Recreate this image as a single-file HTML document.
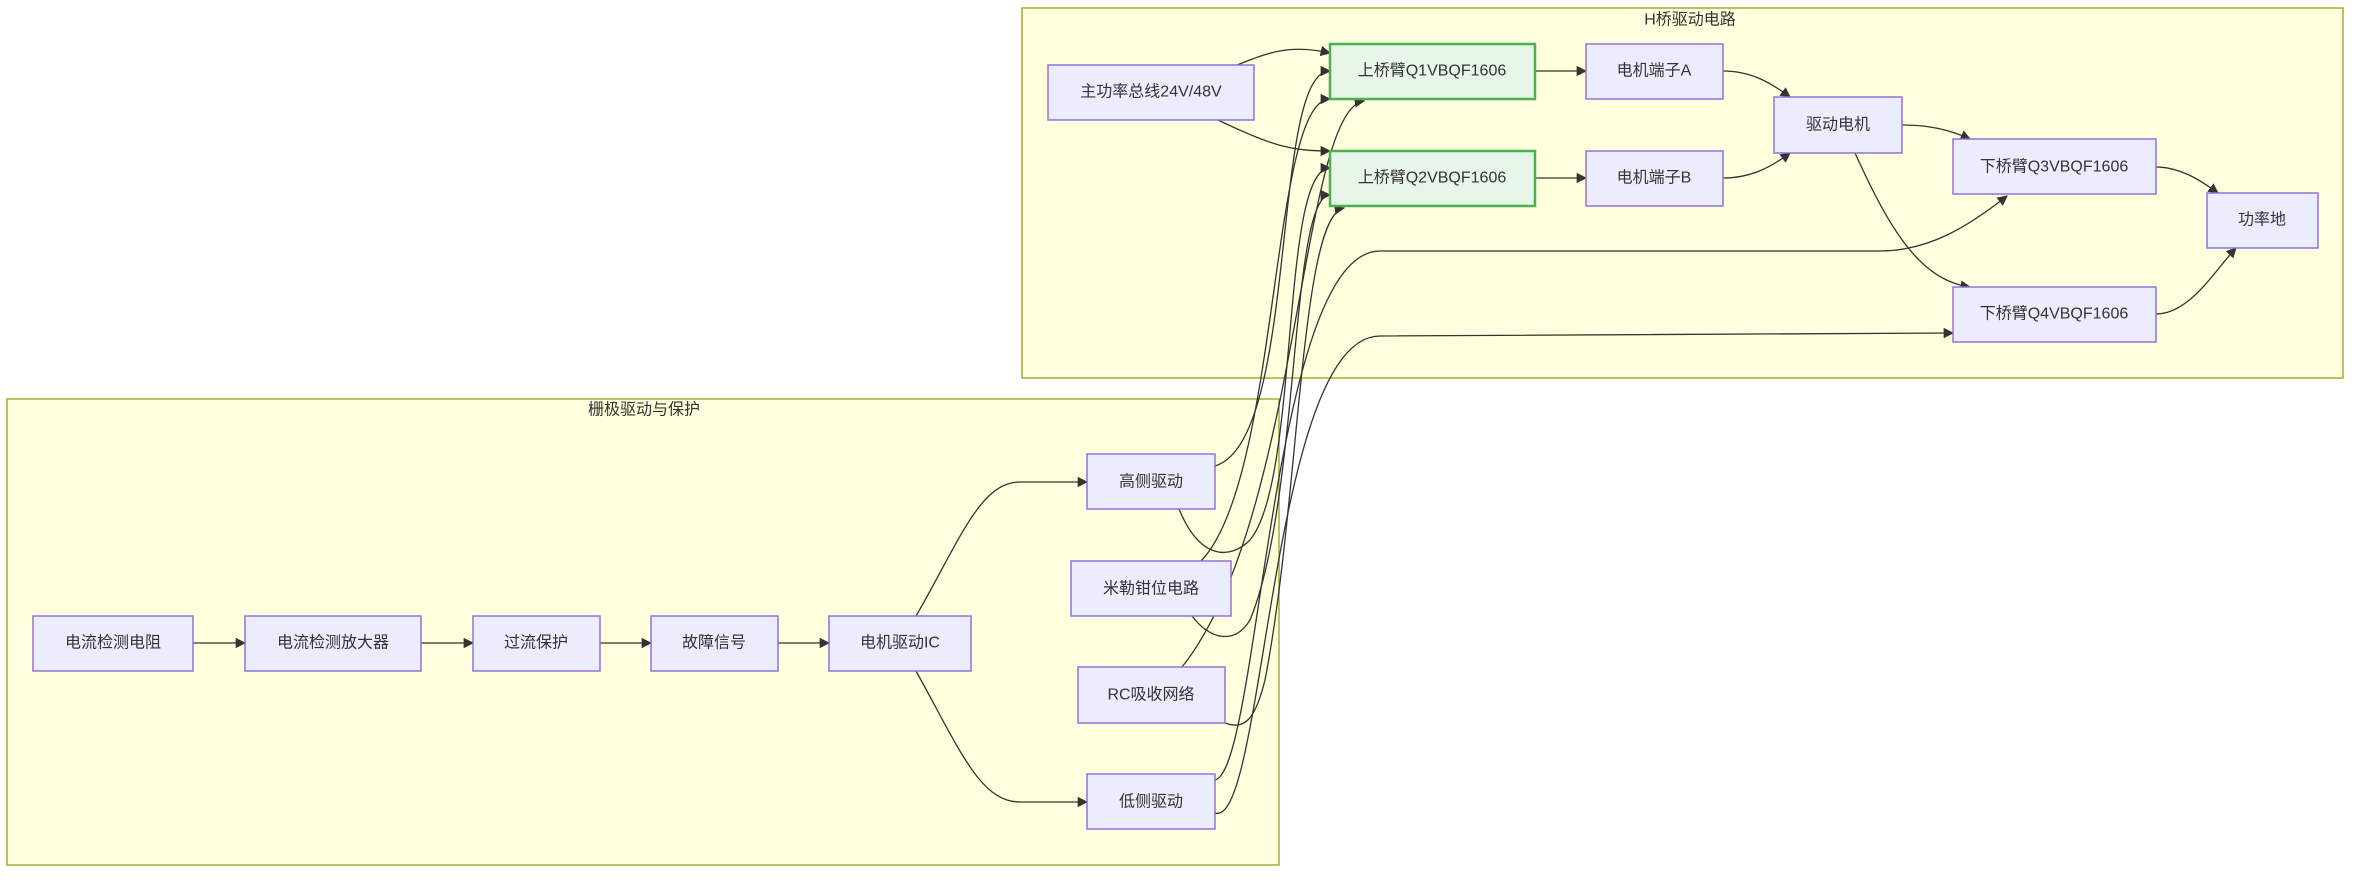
<!DOCTYPE html>
<html><head><meta charset="utf-8"><style>
body{margin:0;background:#fff;}
svg{display:block;font-family:"Liberation Sans","Noto Sans CJK SC",sans-serif;}
.n{fill:#ECECFF;stroke:#9370DB;stroke-width:1.5;}
.g{fill:#e8f5e9;stroke:#4caf50;stroke-width:2.5;}
.c{fill:#ffffde;stroke:#aaaa33;stroke-width:1.5;}
.e{fill:none;stroke:#333;stroke-width:1.3;}
text{font-size:16px;fill:#333;text-anchor:middle;dominant-baseline:central;}
</style></head><body>
<svg width="2368" height="880" viewBox="0 0 2368 880">
<defs><marker id="a" viewBox="0 0 10 10" refX="9" refY="5" markerWidth="8" markerHeight="8" orient="auto"><path d="M0,0L10,5L0,10z" fill="#333"/></marker></defs>
<rect class="c" x="1022" y="8" width="1321" height="370"/>
<text x="1690" y="20">H桥驱动电路</text>
<rect class="c" x="7" y="399" width="1272" height="466"/>
<text x="644" y="410">栅极驱动与保护</text>

<g marker-end="url(#a)">
<path class="e" d="M193,643L245,643"/>
<path class="e" d="M421,643L473,643"/>
<path class="e" d="M600,643L651,643"/>
<path class="e" d="M778,643L829,643"/>
<path class="e" d="M916,616C960,540 980,482 1020,482L1087,482"/>
<path class="e" d="M916,671C960,750 980,802 1020,802L1087,802"/>
<path class="e" d="M1237,65C1270,52 1290,44 1330,53"/>
<path class="e" d="M1218,120C1270,145 1290,151 1330,151"/>
<path class="e" d="M1215,466C1300,440 1270,71 1330,71"/>
<path class="e" d="M1201,561C1280,480 1270,99 1330,99"/>
<path class="e" d="M1182,667C1300,520 1300,110 1364,101"/>
<path class="e" d="M1179,509C1200,560 1230,560 1250,540C1300,480 1280,168 1330,168"/>
<path class="e" d="M1192,616C1210,640 1235,645 1250,620C1300,500 1290,195 1330,195"/>
<path class="e" d="M1225,723C1245,730 1255,720 1265,680C1300,500 1300,215 1344,208"/>
<path class="e" d="M1215,780C1260,770 1270,251 1380,251L1880,251C1930,251 1970,225 2007,196"/>
<path class="e" d="M1215,813C1265,830 1270,336 1380,336L1953,333"/>
<path class="e" d="M1535,71L1586,71"/>
<path class="e" d="M1535,178L1586,178"/>
<path class="e" d="M1723,71C1750,71 1770,82 1790,97"/>
<path class="e" d="M1723,178C1750,178 1770,168 1790,153"/>
<path class="e" d="M1902,125C1930,125 1950,130 1970,139"/>
<path class="e" d="M1855,153C1890,230 1920,280 1970,287"/>
<path class="e" d="M2156,167C2180,167 2200,180 2218,193"/>
<path class="e" d="M2156,314C2190,314 2215,270 2236,248"/>
</g>

<rect class="n" x="1048" y="65" width="206" height="55"/><text x="1151" y="92">主功率总线24V/48V</text>
<rect class="g" x="1330" y="44" width="205" height="55"/><text x="1432" y="71">上桥臂Q1VBQF1606</text>
<rect class="g" x="1330" y="151" width="205" height="55"/><text x="1432" y="178">上桥臂Q2VBQF1606</text>
<rect class="n" x="1586" y="44" width="137" height="55"/><text x="1654" y="71">电机端子A</text>
<rect class="n" x="1586" y="151" width="137" height="55"/><text x="1654" y="178">电机端子B</text>
<rect class="n" x="1774" y="97" width="128" height="56"/><text x="1838" y="125">驱动电机</text>
<rect class="n" x="1953" y="139" width="203" height="55"/><text x="2054" y="167">下桥臂Q3VBQF1606</text>
<rect class="n" x="1953" y="287" width="203" height="55"/><text x="2054" y="314">下桥臂Q4VBQF1606</text>
<rect class="n" x="2207" y="193" width="111" height="55"/><text x="2262" y="220">功率地</text>

<rect class="n" x="33" y="616" width="160" height="55"/><text x="113" y="643">电流检测电阻</text>
<rect class="n" x="245" y="616" width="176" height="55"/><text x="333" y="643">电流检测放大器</text>
<rect class="n" x="473" y="616" width="127" height="55"/><text x="536" y="643">过流保护</text>
<rect class="n" x="651" y="616" width="127" height="55"/><text x="714" y="643">故障信号</text>
<rect class="n" x="829" y="616" width="142" height="55"/><text x="900" y="643">电机驱动IC</text>
<rect class="n" x="1087" y="454" width="128" height="55"/><text x="1151" y="482">高侧驱动</text>
<rect class="n" x="1071" y="561" width="160" height="55"/><text x="1151" y="589">米勒钳位电路</text>
<rect class="n" x="1078" y="667" width="147" height="56"/><text x="1151" y="695">RC吸收网络</text>
<rect class="n" x="1087" y="774" width="128" height="55"/><text x="1151" y="802">低侧驱动</text>
</svg>
</body></html>
